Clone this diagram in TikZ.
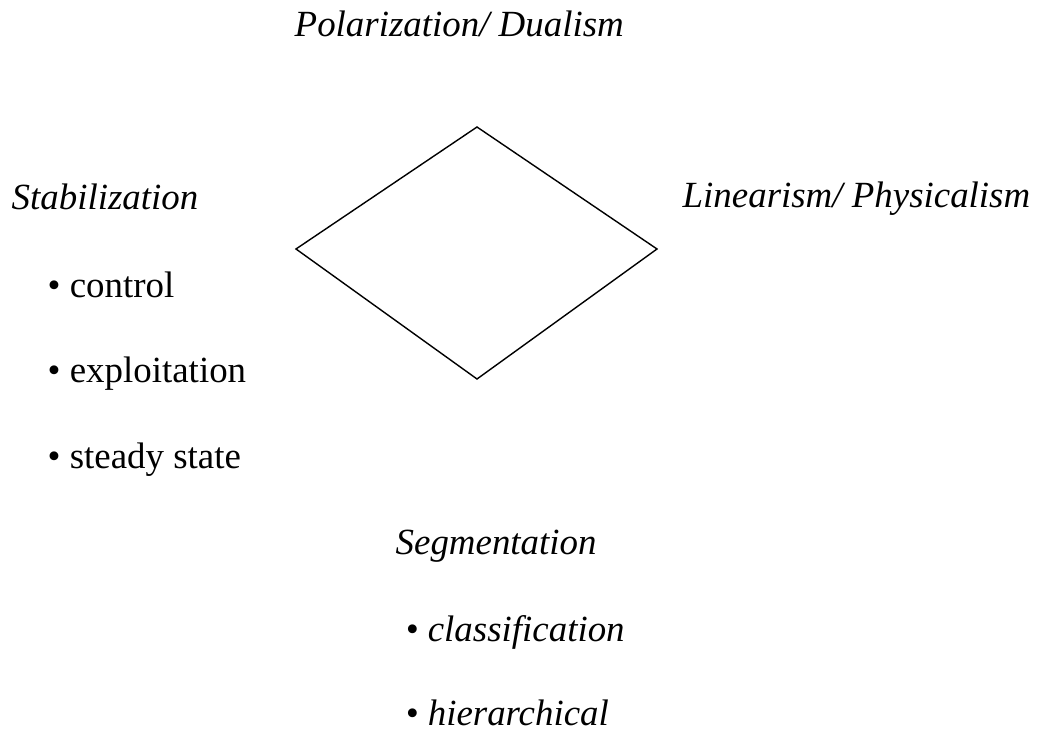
\documentclass[tikz,border=0pt]{standalone}
\usepackage{fontspec}
\setmainfont{Liberation Serif}
\usepackage{tikz}
\usetikzlibrary{positioning}

\begin{document}
\begin{tikzpicture}[
    txt/.style={anchor=base west, inner sep=0pt, font=\fontsize{10.5}{12.5}\selectfont},
    heading/.style={txt, font=\fontsize{10.5}{12.5}\selectfont\itshape},
    bullet/.style={txt},
    ibullet/.style={heading},
    rhombus/.style={line width=0.4pt}
]
    \useasboundingbox (0,0) rectangle (10.38,7.30);

    % Headings
    \node[heading] (polar) at (2.94,6.93) {Polarization/ Dualism};
    \node[heading] (stab) at (0.11,5.20) {Stabilization};
    \node[heading] (linear) at (6.82,5.22) {Linearism/ Physicalism};
    \node[heading] (segm) at (3.95,1.75) {Segmentation};

    % Stabilization items
    \node[bullet] (control) at (0.47,4.32) {• control};
    \node[bullet] (exploit) at (0.47,3.47) {• exploitation};
    \node[bullet] (steady) at (0.47,2.61) {• steady state};

    % Segmentation items
    \node[ibullet] (classif) at (4.05,0.88) {• classification};
    \node[ibullet] (hierar) at (4.05,0.04) {• hierarchical};

    % Diamond
    \coordinate (dtop) at (4.77,6.03);
    \coordinate (dright) at (6.57,4.81);
    \coordinate (dbottom) at (4.77,3.51);
    \coordinate (dleft) at (2.96,4.81);
    \draw[rhombus] (dtop) -- (dright) -- (dbottom) -- (dleft) -- cycle;
\end{tikzpicture}
\end{document}
